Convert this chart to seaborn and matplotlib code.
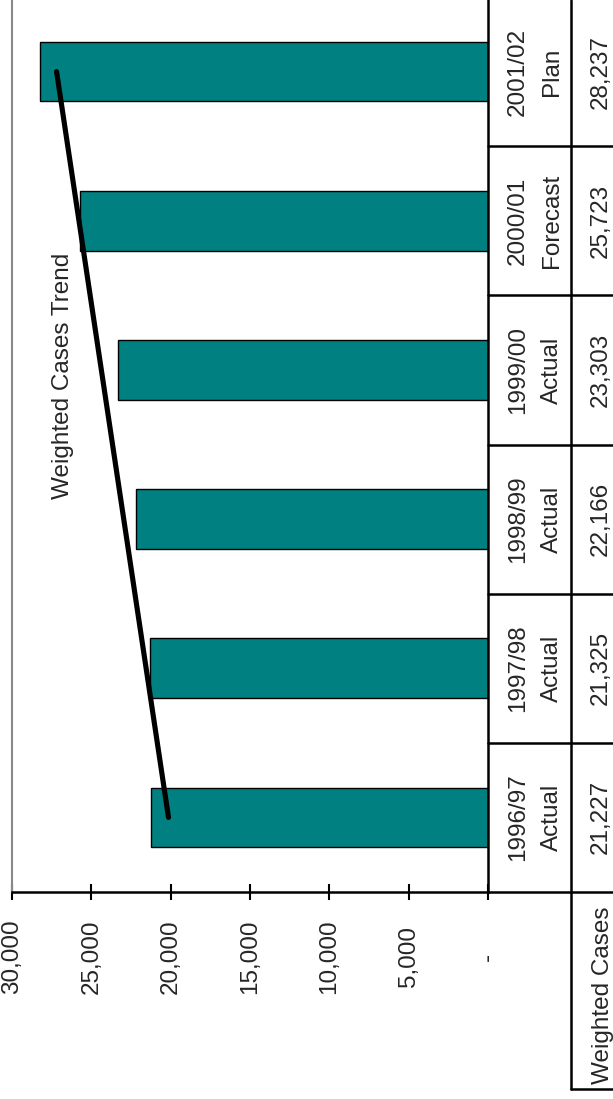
import numpy as np
import pandas as pd
import matplotlib
matplotlib.use("Agg")
import matplotlib.pyplot as plt
import matplotlib.transforms as mtransforms
import seaborn as sns

# ---- data ----
periods = ["1996/97", "1997/98", "1998/99", "1999/00", "2000/01", "2001/02"]
kinds = ["Actual", "Actual", "Actual", "Actual", "Forecast", "Plan"]
weighted_cases = [21227, 21325, 22166, 23303, 25723, 28237]
value_labels = ["21,227", "21,325", "22,166", "23,303", "25,723", "28,237"]
tick_values = [0, 5000, 10000, 15000, 20000, 25000, 30000]
tick_labels = ["-", "5,000", "10,000", "15,000", "20,000", "25,000", "30,000"]
row_header = "Weighted Cases"
trend_label = "Weighted Cases Trend"

sns.set_style("white")
plt.rcParams["font.family"] = ["Liberation Sans", "DejaVu Sans"]
FS = 17.5

W, H = 613, 1099
fig = plt.figure(figsize=(W / 100, H / 100), dpi=100)
ax_left, ax_right, ax_bottom_px = 12, 488, 892
ax = fig.add_axes([ax_left / W, (H - ax_bottom_px) / H,
                   (ax_right - ax_left) / W, ax_bottom_px / H])

df = pd.DataFrame({"period": periods, "cases": weighted_cases})
order = periods[::-1]  # latest at top
sns.barplot(data=df, x="cases", y="period", order=order, orient="y",
            color="#008080", saturation=1, width=0.4,
            edgecolor="black", linewidth=1.0, ax=ax, zorder=2)

# linear trend of the weighted cases
k = np.arange(len(weighted_cases))
slope, intercept = np.polyfit(k, weighted_cases, 1)
trend = intercept + slope * k
pos = [order.index(p) for p in periods]
ax.plot(trend, pos, color="black", lw=3.7, solid_capstyle="round", zorder=3)
ax.text(26800, 2.04, trend_label, rotation=90, ha="center", va="center",
        fontsize=FS, zorder=4)

ax.set_xlim(30000, 0)
ax.set_ylim(5.5, -0.48)
ax.set_yticks([])
ax.set_ylabel("")
ax.set_xlabel("")
ax.set_xticks(tick_values)
ax.set_xticklabels(tick_labels, rotation=90, fontsize=FS, va="center")
ax.tick_params(axis="x", direction="inout", length=11.5, width=1.5,
               color="black", pad=41, bottom=True)

ax.spines["top"].set_visible(False)
ax.spines["left"].set_color("#888888")
ax.spines["left"].set_linewidth(1.5)
ax.spines["bottom"].set_color("black")
ax.spines["bottom"].set_linewidth(1.8)
ax.spines["right"].set_color("black")
ax.spines["right"].set_linewidth(1.8)

# ---- data table (to the right of the value axis) ----
def ax_x(px):
    return (px - ax_left) / (ax_right - ax_left)

def ax_y(px):
    return (ax_bottom_px - px) / ax_bottom_px

bt = mtransforms.blended_transform_factory(ax.transAxes, ax.transData)
x_col = ax_x(571)
x_end = ax_x(640)
for i in range(len(periods) - 1):
    ax.plot([1.0, x_end], [i + 0.5, i + 0.5], color="black", lw=1.8,
            transform=bt, clip_on=False)
for p, per, kind, vl in zip(pos, periods, kinds, value_labels):
    ax.text(ax_x(518), p, per, rotation=90, ha="center", va="center",
            fontsize=FS, transform=bt, clip_on=False)
    ax.text(ax_x(552), p, kind, rotation=90, ha="center", va="center",
            fontsize=FS, transform=bt, clip_on=False)
    ax.text(ax_x(601), p, vl, rotation=90, ha="center", va="center",
            fontsize=FS, transform=bt, clip_on=False)

# axis line continues across the table
ax.plot([1.0, x_end], [0, 0], color="black", lw=1.8, transform=ax.transAxes,
        clip_on=False)
# column separator and row header box
ax.plot([x_col, x_col], [1.0, ax_y(1089)], color="black", lw=1.8,
        transform=ax.transAxes, clip_on=False)
ax.plot([x_col, x_end], [ax_y(1089), ax_y(1089)], color="black", lw=1.8,
        transform=ax.transAxes, clip_on=False)
ax.text(ax_x(603), ax_y(995), row_header, rotation=90, ha="center",
        va="center", fontsize=FS, transform=ax.transAxes, clip_on=False)

fig.savefig("out.png", dpi=100)
